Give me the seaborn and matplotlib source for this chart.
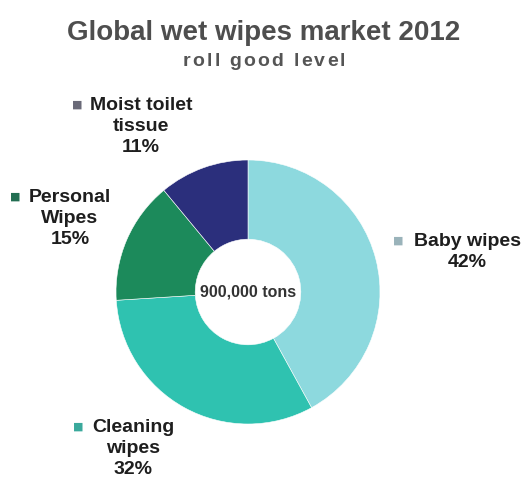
import matplotlib
matplotlib.use("Agg")
import matplotlib.pyplot as plt
import seaborn as sns

categories = ["Baby wipes", "Cleaning wipes", "Personal Wipes", "Moist toilet tissue"]
label_lines = [["Baby wipes", "42%"], ["Cleaning", "wipes", "32%"],
               ["Personal", "Wipes", "15%"], ["Moist toilet", "tissue", "11%"]]
shares = [42, 32, 15, 11]
center_text = "900,000 tons"
title = "Global wet wipes market 2012"
subtitle = "roll good level"

sns.set_theme(style="white")
plt.rcParams["font.family"] = ["Liberation Sans", "DejaVu Sans"]

colors = sns.color_palette(["#8dd9de", "#2fc2b0", "#1c8a5b", "#2b2f7c"])
bullet_colors = ["#9ab3ba", "#3aa99c", "#226e52", "#6a6a78"]

W, H = 525, 479
fig = plt.figure(figsize=(W / 100, H / 100), dpi=100)
fig.patch.set_facecolor("white")

cx, cy, r = 248, 292, 132
ax = fig.add_axes([(cx - r) / W, (H - cy - r) / H, 2 * r / W, 2 * r / H])
ax.pie(shares, colors=colors, startangle=90, counterclock=False, radius=1.0,
       wedgeprops=dict(width=0.6, edgecolor="white", linewidth=0.4))
ax.set_xlim(-1, 1)
ax.set_ylim(-1, 1)
ax.set_aspect("equal")
ax.axis("off")
ax.text(0, 0, center_text, ha="center", va="center", fontsize=11.5,
        fontweight="bold", color="#333333")

def ft(x, y, s, **kw):
    return fig.text(x / W, 1 - y / H, s, ha="center", va="center", **kw)

ft(264, 33, title, fontsize=20, fontweight="bold", color="#4e4e4e")

# subtitle with extra letter spacing, laid out char by char
renderer = fig.canvas.get_renderer()
sub_kw = dict(fontsize=14, fontweight="bold", color="#555555")
spacing = 2.2
widths = []
for ch in subtitle:
    t = fig.text(0, 0, ch if ch != " " else "x", **sub_kw)
    w = t.get_window_extent(renderer).width
    if ch == " ":
        w *= 0.5
    widths.append(w)
    t.remove()
total = sum(widths) + spacing * (len(subtitle) - 1)
x = 264 - total / 2
for ch, w in zip(subtitle, widths):
    if ch != " ":
        fig.text(x / W, 1 - 62 / H, ch, ha="left", va="center", **sub_kw)
    x += w + spacing

# label layout: (center x, first line y, bullet x)
layout = [(467, 241, 398), (133, 427, 78), (70, 197, 15), (141, 105, 77)]
for lines, (x, y0, bx), bc in zip(label_lines, layout, bullet_colors):
    for i, line in enumerate(lines):
        ft(x, y0 + i * 21.5, line, fontsize=14, fontweight="bold", color="#1e1e1e")
    ft(bx, y0, "■", fontsize=8, color=bc, family=["DejaVu Sans"])

fig.savefig("out.png", dpi=100)
